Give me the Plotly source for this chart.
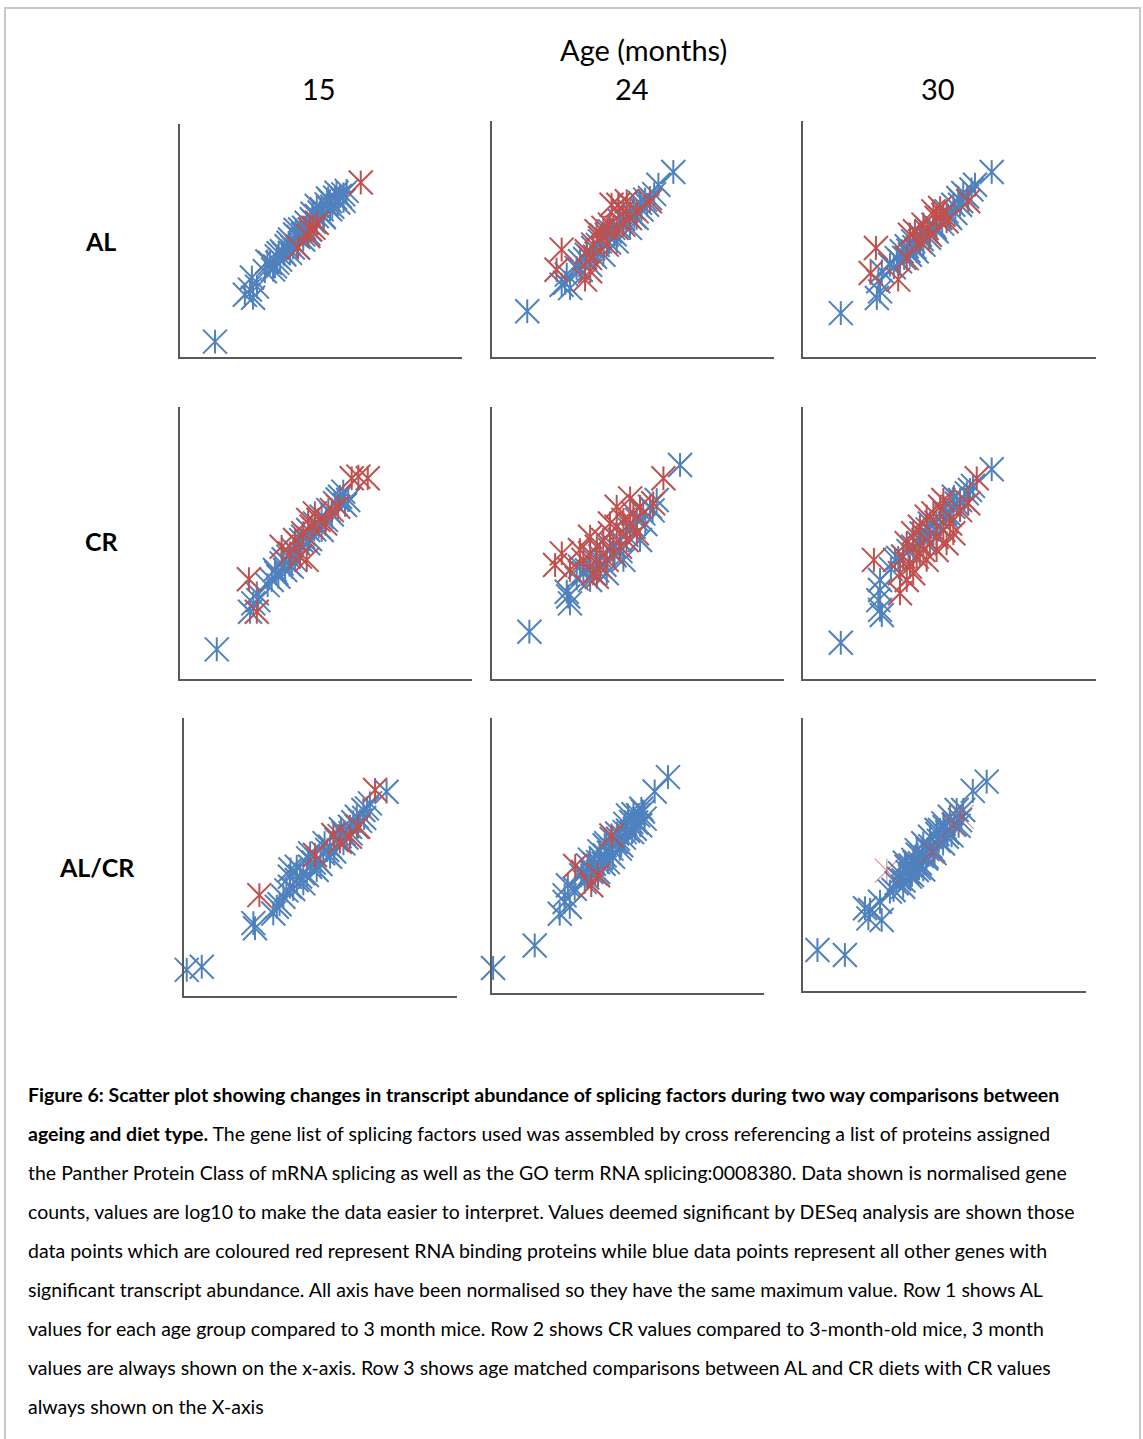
import plotly.graph_objects as go

BLUE = "#4F81BD"
RED = "#C0504D"

# ---------------- data (log10 normalised counts, axes scaled 0-100) ----------------
# Row AL, 15 months
al15_blue_x = [12.4, 23.0, 25.9, 25.5, 27.3, 24.8, 30.1, 31.9, 34.3, 36.1, 37.8, 35.5, 39.0, 40.8, 42.6, 43.7, 44.9, 46.7,
               48.5, 50.2, 52.0, 53.2, 55.0, 56.7, 57.9, 59.1, 56.1, 50.8, 46.1, 41.4, 36.6, 33.7, 39.0, 48.5, 53.2, 43.7,
               31.0, 33.0, 35.0, 37.0, 38.5, 40.0, 42.0, 44.0, 45.5, 47.5, 49.5, 51.0, 54.0, 55.5, 58.0, 34.5, 41.0, 47.0, 52.5]
al15_blue_y = [6.6, 26.7, 25.4, 34.1, 30.2, 28.9, 36.8, 40.4, 43.2, 45.4, 47.5, 41.8, 50.4, 52.6, 54.7, 52.6, 57.6, 59.1,
               60.5, 63.4, 65.5, 66.9, 68.4, 69.1, 69.8, 71.3, 66.3, 60.5, 54.7, 47.5, 44.7, 38.9, 44.7, 64.8, 63.4, 50.4,
               41.0, 37.5, 44.5, 44.0, 49.0, 47.0, 51.5, 55.5, 53.0, 58.0, 62.0, 60.0, 64.5, 70.5, 67.0, 40.5, 54.5, 61.5, 68.0]
al15_red_x = [64.1, 41.9, 45.5, 47.3, 48.5, 46.1]
al15_red_y = [74.9, 46.9, 51.9, 55.5, 57.6, 54.7]

# Row AL, 24 months
al24_blue_x = [12.5, 64.3, 59.0, 25.9, 26.5, 24.7, 27.7, 31.2, 33.6, 35.9, 38.3, 40.7, 43.0, 45.4, 47.8, 50.1, 52.5, 54.3,
               56.0, 34.8, 39.5, 44.2, 48.9, 51.3, 30.0, 41.8,
               31.5, 33.0, 36.5, 37.5, 39.0, 41.5, 43.5, 45.0, 46.5, 49.0, 50.5, 53.0, 55.0, 57.5]
al24_blue_y = [19.4, 78.4, 73.0, 31.4, 34.9, 30.6, 29.2, 40.6, 43.3, 46.2, 49.0, 51.8, 54.7, 57.5, 60.3, 63.1, 65.3, 66.7,
               67.4, 39.1, 43.3, 49.0, 54.7, 58.9, 37.7, 53.3,
               37.0, 41.5, 42.5, 47.5, 51.5, 48.5, 52.0, 55.0, 58.5, 61.5, 59.5, 62.5, 64.5, 69.0]
al24_red_x = [24.7, 22.9, 33.0, 34.8, 37.1, 39.5, 42.4, 44.8, 46.6, 48.9, 56.0, 41.8, 38.3, 35.9, 33.6, 40.7, 44.2, 46.6,
              51.3, 47.8, 34.8]
al24_red_y = [45.5, 37.0, 32.8, 36.3, 53.3, 54.7, 64.5, 64.5, 61.7, 58.9, 66.0, 56.1, 50.4, 47.6, 44.8, 47.6, 54.7, 56.1,
              61.7, 66.0, 41.9]

# Row AL, 30 months
al30_blue_x = [12.9, 64.4, 58.7, 26.3, 25.7, 26.9, 25.2, 32.0, 33.7, 35.4, 37.6, 39.9, 42.2, 44.5, 46.8, 49.0, 51.3, 53.0,
               54.7, 33.1, 36.5, 41.1, 45.6, 50.2, 53.6, 29.7, 38.8,
               31.0, 34.5, 36.0, 38.0, 40.5, 43.0, 45.0, 47.5, 49.5, 52.0, 54.0, 56.0, 57.5]
al30_blue_y = [18.6, 78.4, 73.0, 27.8, 32.1, 36.3, 25.0, 41.9, 44.8, 46.9, 49.0, 51.8, 53.3, 56.1, 58.9, 61.7, 64.5, 67.4,
               69.5, 40.6, 43.3, 47.6, 53.3, 58.9, 64.5, 39.1, 44.8,
               38.0, 42.0, 45.0, 46.5, 50.0, 50.5, 55.0, 56.5, 60.0, 61.0, 66.0, 68.0, 71.0]
al30_red_x = [24.9, 23.1, 32.5, 36.5, 38.2, 42.2, 45.6, 46.8, 49.0, 56.4, 39.9, 43.3, 47.9, 35.4, 44.5, 41.1]
al30_red_y = [46.2, 35.6, 32.8, 51.8, 53.3, 54.7, 58.9, 63.1, 57.5, 66.0, 49.0, 51.8, 60.3, 41.9, 61.7, 56.1]

# Row CR, 15 months
cr15_blue_x = [12.6, 26.3, 25.1, 24.0, 26.8, 31.4, 32.5, 34.8, 37.1, 38.8, 40.5, 42.2, 43.9, 46.2, 48.5, 50.8, 53.1, 54.8,
               55.9, 57.6, 36.0, 39.4, 43.9, 48.5, 33.7, 38.3,
               30.0, 33.0, 35.5, 37.5, 40.0, 41.5, 44.5, 46.0, 47.5, 50.0, 52.0, 54.0, 56.5]
cr15_blue_y = [10.9, 31.5, 27.8, 24.7, 29.0, 36.4, 40.1, 42.5, 45.0, 47.4, 49.9, 52.3, 54.8, 57.2, 59.7, 62.1, 64.6, 67.0,
               68.9, 65.8, 40.1, 43.8, 49.9, 54.8, 37.6, 41.3,
               34.5, 39.0, 44.0, 42.0, 46.0, 51.0, 51.5, 55.0, 56.0, 58.5, 60.5, 66.0, 64.0]
cr15_red_x = [23.6, 26.3, 58.8, 61.1, 64.3, 34.8, 37.7, 41.1, 43.4, 39.4, 42.2, 45.1, 47.4, 49.7, 52.0, 54.2, 46.2, 43.9]
cr15_red_y = [36.7, 24.7, 73.8, 74.4, 73.8, 48.6, 46.2, 45.0, 43.8, 51.1, 53.6, 56.0, 58.5, 57.2, 62.1, 63.3, 60.9, 58.5]

# Row CR, 24 months
cr24_blue_x = [12.8, 64.4, 26.1, 26.7, 25.6, 31.3, 33.6, 37.0, 40.4, 43.8, 47.3, 49.6, 51.8, 54.1, 56.4, 33.6, 39.3, 45.0,
               50.7, 30.1, 34.7,
               29.0, 32.5, 35.5, 38.5, 41.5, 44.0, 46.0, 48.5, 52.5, 55.0, 42.0, 36.0]
cr24_blue_y = [17.4, 78.7, 30.3, 27.8, 32.1, 38.9, 41.3, 45.0, 47.4, 51.1, 54.8, 58.5, 60.9, 63.3, 65.8, 36.4, 38.9, 43.8,
               51.1, 41.3, 38.9,
               37.0, 40.0, 43.0, 42.0, 49.0, 47.0, 53.0, 56.0, 57.0, 62.0, 45.5, 40.0]
cr24_red_x = [23.9, 26.7, 21.6, 58.7, 55.2, 47.3, 33.6, 35.9, 38.1, 40.4, 42.7, 45.0, 48.4, 50.7, 37.0, 39.3, 41.5, 34.7,
              43.8, 46.1, 47.3, 40.4, 33.6, 31.3, 49.6, 42.7, 35.9, 30.1]
cr24_red_y = [46.2, 40.1, 41.9, 73.8, 64.6, 66.4, 52.3, 48.6, 51.1, 53.6, 56.0, 58.5, 60.9, 63.3, 41.3, 43.8, 46.2, 38.9,
              48.6, 51.1, 57.2, 57.2, 46.2, 43.8, 53.6, 63.3, 37.6, 47.4]

# Row CR, 30 months
cr30_blue_x = [12.9, 64.4, 26.3, 25.7, 26.3, 26.3, 26.9, 31.4, 34.2, 37.6, 41.1, 44.5, 46.8, 49.0, 51.3, 53.6, 55.9, 57.0,
               47.9, 43.3,
               30.0, 32.5, 36.0, 39.5, 42.5, 45.5, 48.5, 50.0, 52.5, 55.0, 58.0, 40.5, 51.5]
cr30_blue_y = [13.3, 77.1, 25.4, 29.0, 36.4, 32.7, 23.5, 43.8, 45.0, 48.6, 51.1, 53.6, 56.0, 59.7, 63.3, 65.8, 68.3, 69.5,
               62.1, 57.2,
               40.5, 44.5, 47.0, 50.0, 55.0, 57.5, 61.0, 60.5, 64.5, 66.0, 71.0, 53.5, 67.0]
cr30_red_x = [24.2, 59.3, 56.4, 33.1, 35.4, 33.1, 36.5, 38.8, 41.1, 43.3, 45.6, 47.9, 50.2, 35.4, 37.6, 39.9, 42.2, 44.5,
              46.8, 47.9, 39.9, 42.2, 37.6, 45.6, 49.0, 51.3, 34.2, 53.6]
cr30_red_y = [43.8, 73.8, 64.6, 31.5, 36.4, 38.9, 41.3, 45.0, 47.4, 49.9, 52.3, 54.8, 57.2, 49.9, 53.6, 56.0, 59.7, 60.9,
              63.3, 65.8, 46.2, 43.8, 38.9, 47.4, 49.9, 53.6, 45.0, 62.1]

# Row AL/CR, 15 months
alcr15_blue_x = [1.0, 6.5, 26.0, 25.4, 32.7, 34.0, 74.2, 36.4, 38.8, 41.3, 43.7, 46.2, 48.6, 51.0, 53.5, 55.9, 58.4, 60.8,
                 63.3, 65.7, 68.1, 43.7, 48.6, 53.5, 38.8, 46.2, 58.4, 63.3, 41.3,
                 35.0, 37.5, 40.0, 42.5, 45.0, 47.5, 50.0, 52.5, 55.0, 57.0, 59.5, 62.0, 64.5, 67.0, 39.0, 45.5, 51.5,
                 57.5, 61.0, 66.0]
alcr15_blue_y = [9.4, 10.5, 24.4, 26.2, 29.7, 32.1, 73.5, 35.7, 39.3, 41.7, 44.1, 46.5, 48.9, 51.3, 53.7, 56.1, 58.5, 60.9,
                 64.5, 66.9, 69.3, 40.5, 45.3, 50.1, 42.9, 51.3, 54.9, 60.9, 46.5,
                 33.0, 38.0, 38.5, 43.0, 43.5, 48.0, 47.5, 52.5, 52.0, 57.5, 57.0, 62.5, 63.0, 67.5, 45.5, 49.5, 55.0,
                 60.0, 58.5, 64.0]
alcr15_red_x = [27.6, 70.0, 48.0, 54.7, 57.1, 60.8, 63.8]
alcr15_red_y = [36.3, 74.1, 50.7, 57.9, 55.5, 57.3, 60.9]

# Row AL/CR, 24 months
alcr24_blue_x = [0.4, 15.7, 64.7, 59.8, 24.9, 26.7, 28.6, 26.7, 30.4, 27.9, 34.1, 36.5, 39.0, 41.4, 43.9, 46.3, 48.8, 51.2,
                 53.7, 54.9, 56.1, 39.0, 42.6, 47.5, 52.5, 35.3, 41.4, 50.0, 32.8,
                 33.5, 35.0, 37.5, 38.0, 40.0, 41.0, 43.0, 44.5, 45.5, 47.0, 48.5, 50.0, 51.5, 53.0, 54.5, 55.5, 36.0,
                 39.5, 44.0, 49.0, 52.0, 46.0, 42.0]
alcr24_blue_y = [9.1, 17.3, 78.5, 73.3, 28.8, 33.1, 31.3, 35.5, 37.9, 39.2, 40.4, 44.0, 47.6, 50.1, 52.5, 56.1, 58.5, 62.2,
                 64.6, 67.0, 63.4, 44.0, 47.6, 53.7, 59.7, 46.4, 53.7, 64.6, 42.8,
                 44.0, 42.0, 47.0, 43.5, 49.0, 47.0, 51.0, 49.5, 55.0, 52.5, 56.5, 59.0, 58.5, 62.0, 61.0, 66.0, 48.5,
                 51.5, 56.0, 61.5, 65.0, 58.0, 54.5]
alcr24_red_x = [30.6, 43.9, 39.0, 36.5]
alcr24_red_y = [46.2, 57.3, 42.8, 39.2]

# Row AL/CR, 30 months
alcr30_blue_x = [5.1, 14.8, 64.9, 60.0, 21.9, 23.1, 27.8, 27.2, 30.7, 23.7, 33.1, 34.3, 36.6, 39.0, 40.2, 42.5, 44.9, 47.2,
                 49.6, 51.9, 54.3, 56.6, 55.5, 37.8, 41.3, 46.0, 50.8, 35.4, 40.2, 48.4, 43.7,
                 32.0, 34.0, 35.5, 37.0, 38.5, 39.5, 41.0, 42.0, 43.5, 45.0, 46.5, 48.0, 49.5, 51.0, 52.5, 53.5, 55.0,
                 36.0, 40.5, 44.0, 47.5, 50.0, 42.5, 38.0]
alcr30_blue_y = [15.0, 13.2, 76.7, 73.3, 30.3, 26.6, 26.0, 32.7, 36.4, 29.7, 39.5, 43.1, 45.5, 48.0, 51.6, 54.1, 56.5, 59.0,
                 61.4, 63.8, 66.3, 66.3, 62.6, 41.9, 46.8, 51.6, 56.5, 38.2, 44.3, 59.0, 49.2,
                 37.0, 41.0, 40.5, 43.5, 42.5, 47.0, 45.0, 49.5, 48.5, 53.0, 50.5, 55.0, 54.0, 58.0, 57.0, 61.0, 60.5,
                 47.0, 50.0, 52.0, 57.5, 60.0, 44.5, 46.0]
alcr30_red_x = [29.6, 45.5, 53.1, 56.1]
alcr30_red_y = [44.1, 51.0, 60.8, 63.8]

col_labels = ["15", "24", "30"]
row_labels = ["AL", "CR", "AL/CR"]

panels = [
    # (blue_x, blue_y, red_x, red_y)
    (al15_blue_x, al15_blue_y, al15_red_x, al15_red_y),
    (al24_blue_x, al24_blue_y, al24_red_x, al24_red_y),
    (al30_blue_x, al30_blue_y, al30_red_x, al30_red_y),
    (cr15_blue_x, cr15_blue_y, cr15_red_x, cr15_red_y),
    (cr24_blue_x, cr24_blue_y, cr24_red_x, cr24_red_y),
    (cr30_blue_x, cr30_blue_y, cr30_red_x, cr30_red_y),
    (alcr15_blue_x, alcr15_blue_y, alcr15_red_x, alcr15_red_y),
    (alcr24_blue_x, alcr24_blue_y, alcr24_red_x, alcr24_red_y),
    (alcr30_blue_x, alcr30_blue_y, alcr30_red_x, alcr30_red_y),
]

caption_lines = [
    "<b>Figure 6: Scatter plot showing changes in transcript abundance of splicing factors during two way comparisons between</b>",
    "<b>ageing and diet type.</b> The gene list of splicing factors used was assembled by cross referencing a list of proteins assigned",
    "the Panther Protein Class of mRNA splicing as well as the GO term RNA splicing:0008380. Data shown is normalised gene",
    "counts, values are log10 to make the data easier to interpret. Values deemed significant by DESeq analysis are shown those",
    "data points which are coloured red represent RNA binding proteins while blue data points represent all other genes with",
    "significant transcript abundance. All axis have been normalised so they have the same maximum value. Row 1 shows AL",
    "values for each age group compared to 3 month mice. Row 2 shows CR values compared to 3-month-old mice, 3 month",
    "values are always shown on the x-axis. Row 3 shows age matched comparisons between AL and CR diets with CR values",
    "always shown on the X-axis",
]

# ---------------- layout geometry (pixels of the 1143x1439 page) ----------------
W, H = 1143, 1439
boxes = [  # (left, right, bottom, top) in page pixels
    (180, 462, 357, 124), (492, 774, 357, 121), (803, 1096, 357, 121),
    (180, 472, 679, 407), (492, 784, 679, 407), (803, 1096, 679, 407),
    (184, 457, 996, 718), (492, 764, 993, 718), (803, 1086, 991, 718),
]
FONT = "Lato"


def fx(px):
    return px / W


def fy(py):
    return 1 - py / H


fig = go.Figure()
layout = {}


def add_series(xs, ys, color, idx, width=2.0, opacity=1.0):
    suffix = "" if idx == 1 else str(idx)
    for sym, size in (("x-thin-open", 24), ("line-ns-open", 17)):
        fig.add_trace(go.Scatter(
            x=xs, y=ys, mode="markers", xaxis="x" + suffix, yaxis="y" + suffix,
            cliponaxis=False, opacity=opacity, hoverinfo="skip",
            marker=dict(symbol=sym, size=size, color=color, line=dict(width=width, color=color)),
            showlegend=False,
        ))


for i, (box, (bx, by, rx, ry)) in enumerate(zip(boxes, panels), start=1):
    l, r, b, t = box
    suffix = "" if i == 1 else str(i)
    layout["xaxis" + suffix] = dict(
        domain=[fx(l), fx(r)], range=[0, 100], anchor="y" + suffix,
        showline=True, linecolor="#595959", linewidth=1.5, showgrid=False, zeroline=False,
        showticklabels=False, ticks="", fixedrange=True,
    )
    layout["yaxis" + suffix] = dict(
        domain=[fy(b), fy(t)], range=[0, 100], anchor="x" + suffix,
        showline=True, linecolor="#595959", linewidth=1.5, showgrid=False, zeroline=False,
        showticklabels=False, ticks="", fixedrange=True,
    )
    add_series(bx, by, BLUE, i)
    if i == 9:
        add_series(rx, ry, RED, i, width=1.2, opacity=0.6)
    else:
        add_series(rx, ry, RED, i)

annotations = []
annotations.append(dict(text="Age (months)", x=fx(643), y=fy(50), xref="paper", yref="paper",
                        showarrow=False, xanchor="center", yanchor="middle",
                        font=dict(family=FONT, size=29, color="#000000")))
for lab, cx in zip(col_labels, (319, 632, 938)):
    annotations.append(dict(text=lab, x=fx(cx), y=fy(89), xref="paper", yref="paper",
                            showarrow=False, xanchor="center", yanchor="middle",
                            font=dict(family=FONT, size=29, color="#000000")))
for lab, cx, cy in zip(row_labels, (100, 102, 97), (241, 541, 867)):
    annotations.append(dict(text="<b>" + lab + "</b>", x=fx(cx), y=fy(cy), xref="paper", yref="paper",
                            showarrow=False, xanchor="center", yanchor="middle",
                            font=dict(family=FONT, size=25, color="#000000")))
for k, line in enumerate(caption_lines):
    annotations.append(dict(text=line, x=fx(26), y=fy(1094 + 39 * k), xref="paper", yref="paper",
                            showarrow=False, xanchor="left", yanchor="middle",
                            font=dict(family=FONT, size=19.5, color="#000000")))

fig.update_layout(
    width=W, height=H, margin=dict(l=0, r=0, t=0, b=0),
    paper_bgcolor="white", plot_bgcolor="white", showlegend=False,
    annotations=annotations,
    shapes=[dict(type="rect", xref="paper", yref="paper", x0=fx(5), x1=fx(1140), y0=-0.02, y1=fy(8),
                 line=dict(color="#c8c8c8", width=2), fillcolor="rgba(0,0,0,0)", layer="below")],
    **layout,
)

fig.write_html("out.html")
